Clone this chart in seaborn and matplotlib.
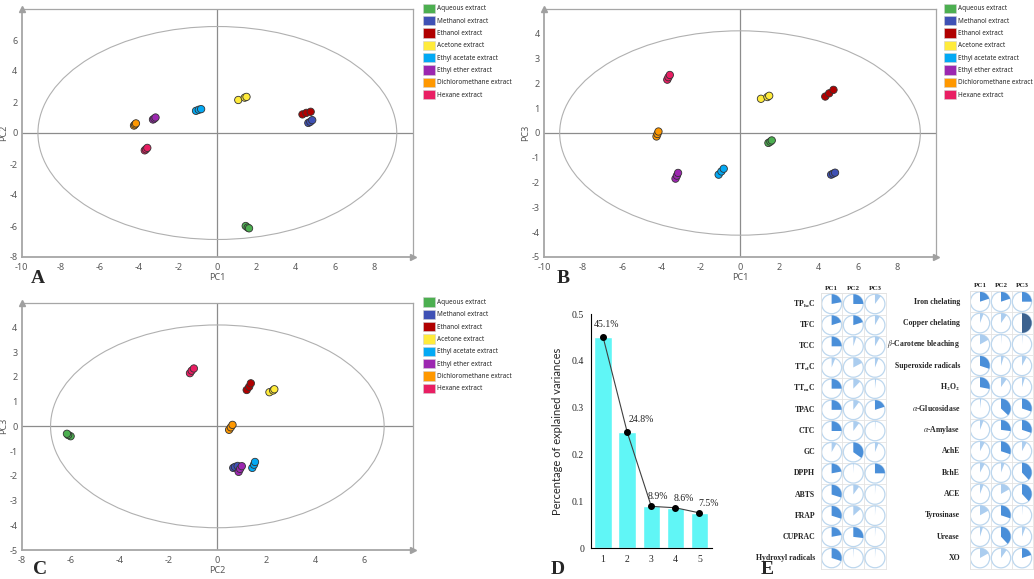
"""PCA figure: score plots (A-C), scree plot (D) and loading pies (E)."""

import numpy as np
import pandas as pd
import matplotlib
matplotlib.use("Agg")
import matplotlib.pyplot as plt
from matplotlib.patches import Ellipse, Wedge, Circle, Patch
import seaborn as sns

W, H = 1034, 579

extracts = ["Aqueous extract", "Methanol extract", "Ethanol extract", "Acetone extract",
            "Ethyl acetate extract", "Ethyl ether extract", "Dichloromethane extract",
            "Hexane extract"]
colors = ["#4CAF50", "#3F51B5", "#B00000", "#FFEB3B",
          "#03A9F4", "#9C27B0", "#FF9800", "#E91E63"]

# three replicates per extract, in the order of `extracts`
pc1 = [1.45, 1.55, 1.62,   4.65, 4.75, 4.85,   4.35, 4.55, 4.77,   1.07, 1.40, 1.49,
       -1.09, -0.95, -0.83, -3.29, -3.22, -3.16, -4.26, -4.21, -4.16, -3.71, -3.65, -3.58]
pc2 = [-6.00, -6.10, -6.15, 0.65, 0.72, 0.83,  1.20, 1.30, 1.37,   2.13, 2.28, 2.33,
       1.43, 1.50, 1.54,   0.87, 0.93, 1.00,   0.48, 0.55, 0.62,   -1.12, -1.05, -0.96]
pc3 = [-0.40, -0.35, -0.30, -1.68, -1.64, -1.60, 1.47, 1.60, 1.74, 1.38, 1.45, 1.50,
       -1.68, -1.55, -1.44, -1.84, -1.72, -1.61, -0.14, -0.04, 0.06, 2.15, 2.25, 2.34]

components = [1, 2, 3, 4, 5]
explained = [0.451, 0.248, 0.089, 0.086, 0.075]

left_vars = ["TP$_\\mathbf{he}$C", "TFC", "TCC", "TT$_\\mathbf{rl}$C", "TT$_\\mathbf{m}$C",
             "TPAC", "CTC", "GC", "DPPH", "ABTS", "FRAP", "CUPRAC", "Hydroxyl radicals"]
left_pc1 = [0.22, 0.20, 0.25, 0.06, 0.25, 0.25, 0.25, 0.08, 0.22, 0.30, 0.30, 0.22, 0.30]
left_pc2 = [0.25, 0.20, 0.05, 0.17, 0.12, 0.10, 0.10, 0.35, 0.01, 0.10, 0.13, 0.27, 0.01]
left_pc3 = [0.10, 0.08, 0.08, 0.06, 0.02, 0.20, 0.01, 0.06, 0.25, 0.01, 0.01, 0.01, 0.01]

right_vars = ["Iron chelating", "Copper chelating", "$\\beta$-Carotene bleaching",
              "Superoxide radicals", "H$_\\mathbf{2}$O$_\\mathbf{2}$", "$\\alpha$-Glucosidase",
              "$\\alpha$-Amylase", "AchE", "BchE", "ACE", "Tyrosinase", "Urease", "XO"]
right_pc1 = [0.20, 0.06, 0.17, 0.30, 0.28, 0.02, 0.06, 0.08, 0.08, 0.06, 0.17, 0.05, 0.17]
right_pc2 = [0.20, 0.10, 0.01, 0.05, 0.10, 0.37, 0.27, 0.30, 0.06, 0.17, 0.30, 0.38, 0.10]
right_pc3 = [0.25, 0.50, 0.01, 0.08, 0.05, 0.30, 0.30, 0.08, 0.38, 0.38, 0.01, 0.06, 0.20]

sns.set_style("white")
plt.rcParams["font.family"] = ["Noto Sans", "DejaVu Sans"]
plt.rcParams["mathtext.fontset"] = "stix"
plt.rcParams["axes.unicode_minus"] = False

scores = pd.DataFrame({
    "extract": np.repeat(extracts, 3),
    "PC1": pc1, "PC2": pc2, "PC3": pc3,
})
palette = dict(zip(extracts, colors))

fig = plt.figure(figsize=(W / 100, H / 100), dpi=100)


def px_axes(left, top, right, bottom):
    return fig.add_axes([left / W, 1 - bottom / H, (right - left) / W, (bottom - top) / H])


def score_plot(box, xcol, ycol, xlim, ylim, xticks, yticks, ell, legend_dx):
    ax = px_axes(*box)
    ax.axhline(0, color="#8c8c8c", lw=0.9, zorder=1)
    ax.axvline(0, color="#8c8c8c", lw=0.9, zorder=1)
    ax.add_patch(Ellipse((0, 0), 2 * ell[0], 2 * ell[1], fill=False,
                         edgecolor="#b0b0b0", lw=0.8, zorder=1))
    sns.scatterplot(data=scores, x=xcol, y=ycol, hue="extract", palette=palette,
                    s=28, edgecolor="#333333", linewidth=0.6, legend=False, ax=ax, zorder=3)
    ax.set_xlim(*xlim)
    ax.set_ylim(*ylim)
    ax.set_xticks(xticks)
    ax.set_yticks(yticks)
    ax.tick_params(axis="x", labelsize=6.5, colors="#595959", length=0, pad=4)
    ax.tick_params(axis="y", labelsize=6.5, colors="#595959", length=0, pad=3)
    ax.set_xlabel(xcol, fontsize=6.5, color="#595959", labelpad=1)
    ax.set_ylabel(ycol, fontsize=6.5, color="#595959", labelpad=1)
    for name, sp in ax.spines.items():
        sp.set_color("#a6a6a6")
        sp.set_linewidth(1.3 if name in ("left", "bottom") else 0.9)
    ax.plot([0], [1.0], marker="^", ms=5, color="#a0a0a0", transform=ax.transAxes,
            clip_on=False, zorder=5)
    ax.plot([1.0], [0], marker=">", ms=5, color="#a0a0a0", transform=ax.transAxes,
            clip_on=False, zorder=5)
    handles = [Patch(facecolor=c, edgecolor="#d0d0d0", lw=0.4) for c in colors]
    ax.legend(handles, extracts, loc="upper left",
              bbox_to_anchor=(1 + legend_dx / (box[2] - box[0]), 1.022),
              frameon=False, fontsize=4.6, handlelength=1.9, handleheight=1.9,
              handletextpad=0.3, labelspacing=0.45, borderpad=0, borderaxespad=0)
    return ax


score_plot((21.7, 9, 413, 257), "PC1", "PC2", (-10, 10), (-8, 8),
           range(-10, 9, 2), range(-8, 7, 2), (9.17, 6.87), 10)
score_plot((544, 9, 936, 257), "PC1", "PC3", (-10, 10), (-5, 5),
           range(-10, 9, 2), range(-5, 5), (9.2, 4.12), 8)
score_plot((21.7, 302.7, 413, 550), "PC2", "PC3", (-8, 8), (-5, 5),
           range(-8, 7, 2), range(-5, 5), (6.82, 4.1), 10)

# D: scree plot
axd = px_axes(591, 314, 712, 548)
sns.barplot(x=components, y=explained, color="#60F6F6", width=0.72, ax=axd,
            saturation=1, zorder=1)
pos = np.arange(len(components))
axd.plot(pos, explained, color="#404040", lw=0.8, marker="o", ms=4,
         markerfacecolor="black", markeredgecolor="black", zorder=3)
offsets = [(-0.39, 0.017), (0.05, 0.017), (-0.14, 0.012), (-0.07, 0.01), (-0.05, 0.01)]
for p, v, (dx, dy) in zip(pos, explained, offsets):
    axd.text(p + dx, v + dy, f"{v * 100:.1f}%", fontsize=7, ha="left", va="bottom",
             family="Liberation Serif", color="#222222")
axd.set_xlim(-0.48, 4.52)
axd.set_ylim(0, 0.5)
axd.set_yticks([0, 0.1, 0.2, 0.3, 0.4, 0.5])
axd.set_yticklabels(["0", "0.1", "0.2", "0.3", "0.4", "0.5"])
axd.set_xticks(np.arange(-0.5, 5, 1), minor=True)
axd.tick_params(axis="x", which="major", length=0, pad=5)
axd.tick_params(axis="x", which="minor", length=3, direction="out", width=0.8)
axd.tick_params(axis="y", length=3, direction="out", width=0.8, pad=2)
for lab in axd.get_xticklabels() + axd.get_yticklabels():
    lab.set_family("Liberation Serif")
    lab.set_fontsize(7)
axd.set_xlabel("")
axd.set_ylabel("Percentage of explained variances", fontsize=8, family="Lato", labelpad=6)
sns.despine(ax=axd)
for sp in ("left", "bottom"):
    axd.spines[sp].set_color("black")
    axd.spines[sp].set_linewidth(0.8)


# E: loading pies (wedge clockwise from 12 o'clock, share = |loading|)
def pie_color(v):
    if v >= 0.45:
        return "#3C628F"
    if v >= 0.2:
        return "#4A8FD9"
    return "#ABCDEF"


def pie_grid(box, names, cols, label_x):
    ax = px_axes(*box)
    n = len(names)
    ax.set_xlim(-0.5, 2.5)
    ax.set_ylim(-n + 0.5, 0.5)
    for c, vals in enumerate(cols):
        for r, v in enumerate(vals):
            ax.add_patch(Circle((c, -r), 0.46, facecolor="white", edgecolor="#BDD7EE", lw=0.9))
            ax.add_patch(Wedge((c, -r), 0.46, 90 - 360 * v, 90, facecolor=pie_color(v),
                               edgecolor="none"))
    ax.set_xticks(np.arange(-0.5, 3, 1))
    ax.set_yticks(np.arange(-n + 0.5, 1, 1))
    ax.grid(True, color="#e3e3e3", lw=0.6)
    ax.tick_params(length=0, labelbottom=False, labelleft=False)
    for sp in ax.spines.values():
        sp.set_color("#e3e3e3")
        sp.set_linewidth(0.6)
    for c, head in enumerate(["PC1", "PC2", "PC3"]):
        ax.text(c, 0.62, head, ha="center", va="bottom", fontsize=5,
                family="Liberation Serif", weight="bold")
    for r, name in enumerate(names):
        ax.text(label_x, -r, name, ha="right", va="center", fontsize=5.6,
                family="Liberation Serif", weight="bold")
    return ax


pie_grid((820.8, 293.4, 885.8, 568.6), left_vars, [left_pc1, left_pc2, left_pc3], -0.75)
pie_grid((969.5, 291, 1032.5, 568.7), right_vars, [right_pc1, right_pc2, right_pc3], -0.95)

# panel letters
for letter, x, y in [("A", 38, 279), ("B", 563, 279), ("C", 40, 569), ("D", 558, 569),
                     ("E", 767, 569)]:
    fig.text(x / W, 1 - y / H, letter, fontsize=14, weight="bold", family="Liberation Serif",
             ha="center", va="center")

fig.savefig("out.png", dpi=100)
